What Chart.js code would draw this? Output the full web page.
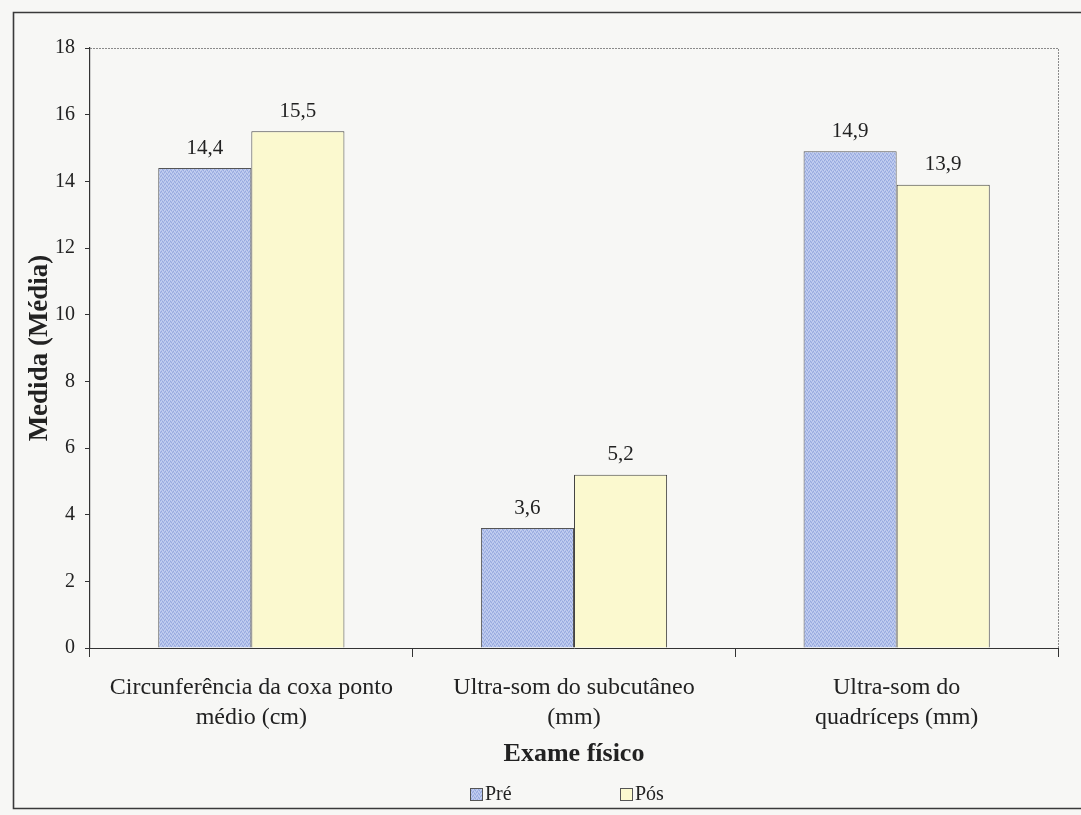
<!DOCTYPE html>
<html>
<head>
<meta charset="utf-8">
<script src="https://cdn.jsdelivr.net/npm/chart.js@4"></script>
<style>
  html, body { margin: 0; padding: 0; background: #f7f7f5; }
  #wrap { width: 1081px; height: 815px; position: relative; }
</style>
</head>
<body>
<div id="wrap"><canvas id="c" width="1081" height="815"></canvas></div>
<script>
// Physical examination measures, before and after
const categories = [
  ['Circunferência da coxa ponto', 'médio (cm)'],
  ['Ultra-som do subcutâneo', '(mm)'],
  ['Ultra-som do', 'quadríceps (mm)']
];
const preValues = [14.4, 3.6, 14.9];
const posValues = [15.5, 5.2, 13.9];
const seriesNames = ['Pré', 'Pós'];
const yTicks = [0, 2, 4, 6, 8, 10, 12, 14, 16, 18];

const SERIF = '"Liberation Serif", "Times New Roman", serif';
const preColor = '#afbfe9';
const posColor = '#fbf9cf';
const ink = '#222';

// Fine stippled fill for the "Pré" bars
function stipple() {
  const tile = document.createElement('canvas');
  tile.width = 4; tile.height = 4;
  const t = tile.getContext('2d');
  t.fillStyle = '#b1c0ea';
  t.fillRect(0, 0, 4, 4);
  const dark = [[0, 0], [2, 1], [1, 3], [3, 2]];
  const light = [[1, 1], [3, 0], [0, 2], [2, 3]];
  t.fillStyle = '#97a9de';
  dark.forEach(([x, y]) => t.fillRect(x, y, 1, 1));
  t.fillStyle = '#c6d1f1';
  light.forEach(([x, y]) => t.fillRect(x, y, 1, 1));
  return t.createPattern(tile, 'repeat');
}
const preFill = stipple();

// Outer frame, plot-area border, value labels and legend
const decorations = {
  id: 'decorations',
  afterDraw(chart) {
    const ctx = chart.ctx;
    const a = chart.chartArea;
    ctx.save();
    // plot-area border (top and right)
    ctx.strokeStyle = '#8a8a8a';
    ctx.lineWidth = 1;
    ctx.setLineDash([2, 1]);
    ctx.beginPath();
    ctx.moveTo(a.left, a.top + 0.5);
    ctx.lineTo(a.right + 0.5, a.top + 0.5);
    ctx.lineTo(a.right + 0.5, a.bottom);
    ctx.stroke();
    ctx.setLineDash([]);

    // outer frame
    ctx.strokeStyle = '#3a3a3a';
    ctx.lineWidth = 1.6;
    ctx.beginPath();
    ctx.moveTo(1081, 12.5);
    ctx.lineTo(13.5, 12.5);
    ctx.lineTo(13.5, 808.5);
    ctx.lineTo(1081, 808.5);
    ctx.stroke();

    // value labels above bars
    ctx.fillStyle = ink;
    ctx.font = '21px ' + SERIF;
    ctx.textAlign = 'center';
    ctx.textBaseline = 'middle';
    chart.data.datasets.forEach((ds, i) => {
      chart.getDatasetMeta(i).data.forEach((bar, j) => {
        const txt = ds.data[j].toFixed(1).replace('.', ',');
        ctx.fillText(txt, bar.x, bar.y - 20);
      });
    });

    // legend
    const items = [
      { x: 470, color: preFill, label: seriesNames[0] },
      { x: 620, color: posColor, label: seriesNames[1] }
    ];
    ctx.font = '20px ' + SERIF;
    ctx.textAlign = 'left';
    items.forEach(it => {
      ctx.fillStyle = it.color;
      ctx.fillRect(it.x, 788, 12, 12);
      ctx.strokeStyle = '#555';
      ctx.lineWidth = 1;
      ctx.strokeRect(it.x + 0.5, 788.5, 12, 12);
      ctx.fillStyle = ink;
      ctx.fillText(it.label, it.x + 15, 795);
    });
    ctx.restore();
  }
};

new Chart(document.getElementById('c'), {
  type: 'bar',
  data: {
    labels: categories,
    datasets: [
      { label: seriesNames[0], data: preValues, backgroundColor: preFill,
        borderColor: '#555', borderWidth: 1 },
      { label: seriesNames[1], data: posValues, backgroundColor: posColor,
        borderColor: '#444', borderWidth: 1 }
    ]
  },
  options: {
    responsive: false,
    animation: false,
    devicePixelRatio: 1,
    layout: { padding: { left: 13, top: 48, right: 23, bottom: 43 } },
    datasets: { bar: { categoryPercentage: 0.577, barPercentage: 1.0 } },
    plugins: {
      legend: { display: false },
      tooltip: { enabled: false }
    },
    scales: {
      x: {
        afterFit(scale) { scale.height = 124; },
        grid: {
          offset: true,
          drawOnChartArea: false,
          drawTicks: true,
          tickLength: 9,
          tickColor: '#333',
          tickWidth: 1
        },
        border: { color: '#333', width: 1 },
        ticks: {
          color: ink,
          font: { family: SERIF, size: 24, lineHeight: 1.25 },
          padding: 16,
          maxRotation: 0,
          autoSkip: false
        },
        title: {
          display: true,
          text: 'Exame físico',
          color: ink,
          font: { family: SERIF, size: 26, weight: 'bold', lineHeight: 1.2 },
          padding: { top: 0, bottom: 2 }
        }
      },
      y: {
        min: 0,
        max: 18,
        afterFit(scale) { scale.width = 77; },
        afterBuildTicks(scale) { scale.ticks = yTicks.map(v => ({ value: v })); },
        grid: {
          drawOnChartArea: false,
          drawTicks: true,
          tickLength: 5,
          tickColor: '#333',
          tickWidth: 1
        },
        border: { color: '#333', width: 1.2 },
        ticks: {
          color: ink,
          font: { family: SERIF, size: 20 },
          padding: 10
        },
        title: {
          display: true,
          text: 'Medida (Média)',
          color: ink,
          font: { family: SERIF, size: 27, weight: 'bold', lineHeight: 1.2 },
          padding: { top: 11, bottom: 0 }
        }
      }
    }
  },
  plugins: [decorations]
});
</script>
</body>
</html>
